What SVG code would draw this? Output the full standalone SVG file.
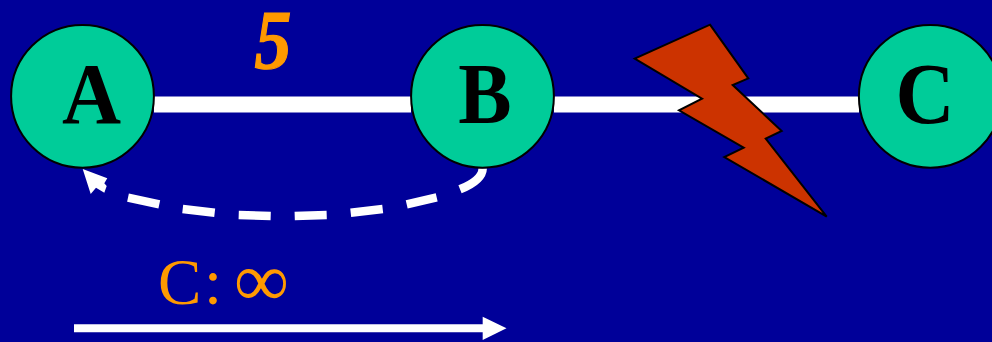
<svg xmlns="http://www.w3.org/2000/svg" width="992" height="342" viewBox="0 0 992 342">
<style>
.node{fill:#00cc99;stroke:#000;stroke-width:2}
.lbl{font-family:"Liberation Serif",serif;font-weight:bold;font-size:87px;fill:#000;text-anchor:middle}
.link{stroke:#fff;stroke-width:16;fill:none}
.orange{font-family:"Liberation Serif",serif;fill:#ff9900}
</style>
<rect width="992" height="342" fill="#000099"/>
<g id="connectors">
<path class="link" d="M154,104.5H411"/>
<path class="link" d="M554,104.5H859"/>
<path d="M482.7,168.3C482.5,177 473,184 460,189.3M436.7,197.3L406.7,204.3M382.7,209L350.7,212.7M326.7,215L294.7,216M270.7,216L238.7,215M214.7,212.7L182.7,209M159.3,204.3L128,197.7" fill="none" stroke="#fff" stroke-width="8.5"/>
<path d="M82.7,169L107.3,178.3L104.3,183.3L106.7,186L104.3,192.7L96,187.7L90.7,194Z" fill="#fff"/>
<path d="M74,328.3H484" stroke="#fff" stroke-width="8" fill="none"/>
<path d="M482.7,316.7L506.5,328.3L482.7,340Z" fill="#fff"/>
</g>
<g id="node-a"><circle class="node" cx="82.5" cy="96.3" r="71.4"/><text class="lbl" transform="translate(91.5,122.5) scale(.94,1)">A</text></g>
<g id="node-b"><circle class="node" cx="482.5" cy="96.3" r="71.4"/><text class="lbl" transform="translate(485,122.5) scale(.92,1)">B</text></g>
<g id="node-c"><circle class="node" cx="930.3" cy="96.3" r="71.4"/><text class="lbl" transform="translate(925,122.5) scale(.94,1)">C</text></g>
<text id="cost" class="orange" transform="translate(273,69) scale(.88,1)" font-weight="bold" font-style="italic" font-size="84" stroke="#ff9900" stroke-width="1.2" text-anchor="middle">5</text>
<polygon id="bolt" points="710,24.7 748.3,78.3 732.7,85 781.7,131 765.7,138.7 826.7,216.7 724.3,157 743.7,147.7 679,110.3 702,98.7 634.7,58.7" fill="#cc3300" stroke="#000" stroke-width="2"/>
<text id="route" class="orange" x="158" y="304" font-size="65">C<tspan x="204">:</tspan><tspan x="234" y="306" font-size="77">∞</tspan></text>
</svg>
